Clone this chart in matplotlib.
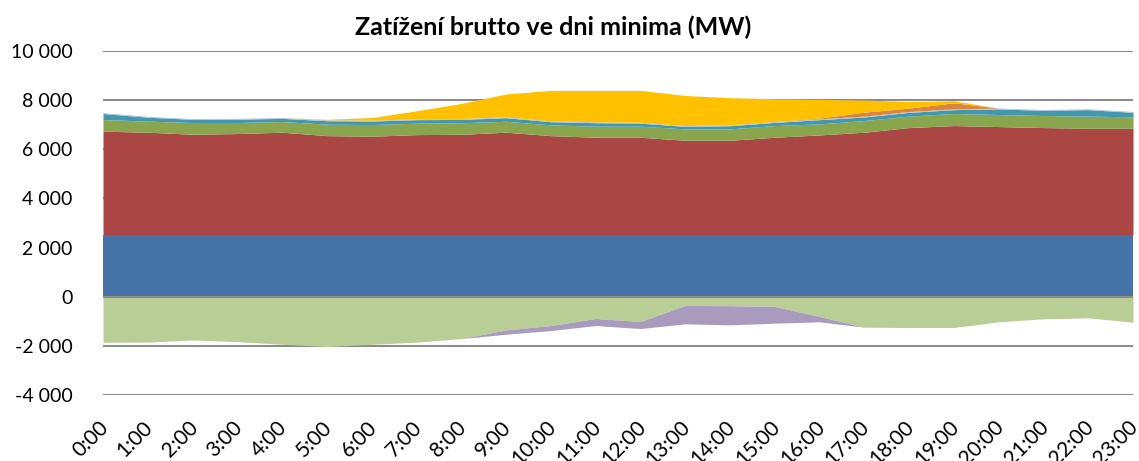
import matplotlib
matplotlib.use("Agg")
import matplotlib.pyplot as plt
import matplotlib.transforms as mtransforms
import numpy as np
from matplotlib.ticker import FuncFormatter

plt.rcParams['font.family'] = ['Lato', 'DejaVu Sans']

hours = [f"{h}:00" for h in range(24)]

# Positive generation layers (MW), stacked from zero upwards
base_blue = [2520] * 24
red = [4216, 4175, 4093, 4120, 4175, 4036, 4012, 4077, 4090, 4175, 4036, 3970,
       3970, 3848, 3848, 3970, 4065, 4175, 4364, 4446, 4405, 4364, 4337, 4337]
green = [475, 450, 477, 450, 435, 466, 474, 466, 470, 445, 438, 450,
         450, 462, 462, 476, 450, 475, 466, 491, 490, 491, 493, 464]
teal = [245, 160, 127, 135, 128, 141, 144, 142, 135, 146, 128, 142,
        125, 101, 129, 129, 170, 145, 153, 156, 227, 210, 263, 182]
light_blue = [35] * 24
orange = [0, 0, 0, 0, 0, 0, 0, 0, 0, 0, 0, 0,
          0, 0, 0, 0, 30, 163, 139, 246, 0, 0, 0, 0]
yellow = [0, 0, 0, 0, 0, 22, 108, 326, 615, 929, 1240, 1280,
          1297, 1224, 1104, 927, 760, 490, 270, 81, 0, 0, 0, 0]

# Negative layers (MW), stacked from zero downwards
neg_green = [-1853, -1850, -1759, -1828, -1935, -2030, -1935, -1850, -1705, -1350, -1173, -886,
             -1009, -355, -368, -395, -805, -1240, -1254, -1254, -1022, -900, -859, -1036]
neg_purple = [0, 0, 0, 0, 0, 0, 0, 0, 0, -177, -204, -287,
              -286, -749, -777, -682, -217, 0, 0, 0, 0, 0, 0, 0]

pos_layers = [
    (base_blue, '#4572A7'),
    (red, '#AA4643'),
    (green, '#89A54E'),
    (teal, '#4198AF'),
    (light_blue, '#A9C0DA'),
    (orange, '#DB843D'),
    (yellow, '#FFC000'),
]
neg_layers = [
    (neg_green, '#B9CD96'),
    (neg_purple, '#A99BBD'),
]

fig = plt.figure(figsize=(11.39, 4.61), dpi=100)
ax = fig.add_axes([103 / 1139, 1 - 395 / 461, (1133 - 103) / 1139, (395 - 51) / 461])

x = np.arange(24)

ax.set_ylim(-4000, 10000)
ax.set_xlim(0, 23)
ax.set_yticks(np.arange(-4000, 10001, 2000))
for yv in [-4000, -2000, 2000, 4000, 6000, 8000, 10000]:
    ax.axhline(yv, color='#8c8c8c', lw=1.5, zorder=0)

bottom = np.zeros(24)
for vals, col in pos_layers:
    top = bottom + np.array(vals, dtype=float)
    ax.fill_between(x, bottom, top, color=col, lw=0, zorder=2)
    bottom = top

bottom = np.zeros(24)
for vals, col in neg_layers:
    top = bottom + np.array(vals, dtype=float)
    ax.fill_between(x, bottom, top, color=col, lw=0, zorder=2)
    bottom = top

ax.axhline(0, color='#8c8c8c', lw=1.5, zorder=3)

for s in ax.spines.values():
    s.set_visible(False)

ax.yaxis.set_major_formatter(FuncFormatter(lambda v, p: f"{int(v):,}".replace(",", " ")))
ax.tick_params(axis='y', length=0, pad=22, labelsize=14)
ax.set_xticks(x)
ax.set_xticklabels(hours, rotation=45, ha='right', va='top', rotation_mode='anchor', fontsize=15)
ax.tick_params(axis='x', length=0, pad=16)
shift = mtransforms.ScaledTranslation(-5 / 100, 0, fig.dpi_scale_trans)
for lab in ax.get_xticklabels():
    lab.set_transform(lab.get_transform() + shift)

fig.text(553 / 1139, 1 - 27 / 461, "Zatížení brutto ve dni minima (MW)",
         ha='center', va='center', fontsize=18, fontweight='bold')

fig.savefig("out.png", dpi=100)
